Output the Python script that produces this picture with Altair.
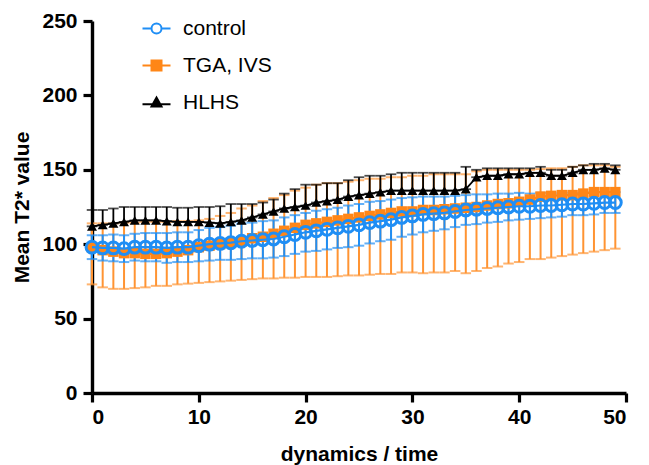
import altair as alt
import pandas as pd

# ---------------- data ----------------
t = list(range(50))
series_names = ["control", "TGA, IVS", "HLHS"]

control_mean = [98, 97.5, 97.5, 97, 98, 98, 98, 97.5, 98, 98,
                99, 100, 100.5, 101, 102, 102.5, 103, 103.5, 105, 106.5,
                108, 109, 110, 111, 112, 113, 114.5, 115.5, 116.5, 118,
                119, 120, 120.5, 121, 122, 123, 123.5, 124, 124.5, 125,
                125.5, 125.5, 126, 126, 126.5, 127, 127, 127.5, 128, 128]
control_sd = [8, 8.5, 9, 9, 9, 9.5, 9.5, 10, 10, 10,
              10.5, 11, 11, 11.5, 12, 12, 12.5, 12.5, 13, 13,
              13, 13.5, 13.5, 13.5, 14, 14, 14, 13.5, 13.5, 13,
              12.5, 12, 11.5, 11, 10.5, 10, 10, 9.5, 9.5, 9,
              9, 8.5, 8.5, 8, 8, 7.5, 7.5, 7.5, 7, 7]

tga_mean = [98, 96, 95, 94, 94, 93.5, 93.5, 94, 95, 96,
            98, 99, 100, 101, 102, 104, 105, 107, 109, 111,
            113, 114, 115, 116, 117, 118, 119, 120, 121, 122,
            122, 123, 123, 123.5, 124, 124.5, 125, 126, 127, 127.5,
            128.5, 130, 132, 132.5, 133, 133, 134, 135, 135, 135]
tga_low = [73, 71, 70, 70, 70.5, 71, 72, 72, 73, 73.5,
           74, 74.5, 75, 75.5, 76, 76.5, 77, 77, 77.5, 77.5,
           78, 78, 78, 78.5, 79, 79, 79.5, 80, 80, 81,
           81, 80.5, 81, 81, 82, 80.5, 82, 84, 85, 87,
           88, 90, 90, 91, 92, 93, 94, 95, 96, 97]
tga_high = [114, 114, 114, 114.5, 114.5, 115, 115, 115, 115.5, 115.5,
            116, 117, 119, 121, 124, 126, 129, 131, 133, 136,
            138, 140, 141, 141, 142, 143, 144, 144, 145, 145,
            146, 146, 147, 147, 147, 147, 149, 150, 150, 150,
            150, 150, 150.5, 151, 151, 152, 153, 153, 153, 152]

hlhs_mean = [112, 113, 114, 115, 116, 116, 116, 115.5, 115, 115,
             115, 114.5, 114, 115, 116, 118, 120, 122, 124, 125,
             126, 128, 129, 130, 132, 133, 134, 135, 136, 136,
             136, 136, 136, 136, 136, 137, 145, 146, 146, 147,
             147, 148, 148, 146, 146, 148, 150, 150, 151, 150]
hlhs_high = [123, 123, 124, 125, 125, 125, 125, 125, 124.5, 124.5,
             125, 125, 125.5, 127, 127, 127, 128, 130, 134, 137,
             140, 140, 141, 141, 143, 145, 146, 146, 147, 148,
             148, 148, 148, 148, 148, 152, 150, 151, 151, 151,
             151, 151, 152, 150, 150, 152, 153, 154, 154, 153]

x_ticks = [0, 10, 20, 30, 40, 50]
y_ticks = [0, 50, 100, 150, 200, 250]

BLUE = "#1f8ef5"
ORANGE = "#ff8617"
ORANGE_BAR = "#ff9433"
BLACK = "#000000"

ctrl = pd.DataFrame({"t": t, "mean": control_mean,
                     "lo": [m - s for m, s in zip(control_mean, control_sd)],
                     "hi": [m + s for m, s in zip(control_mean, control_sd)]})
tga = pd.DataFrame({"t": t, "mean": tga_mean, "lo": tga_low, "hi": tga_high})
hlhs = pd.DataFrame({"t": t, "mean": hlhs_mean, "lo": hlhs_mean, "hi": hlhs_high})
legend_df = pd.DataFrame({"series": series_names, "t": [0, 0, 0], "mean": [-100, -100, -100]})

X = alt.X("t:Q", scale=alt.Scale(domain=[0, 50], nice=False),
          axis=alt.Axis(values=x_ticks, title="dynamics / time", titlePadding=16))
Y = alt.Y("mean:Q", scale=alt.Scale(domain=[0, 250], nice=False),
          axis=alt.Axis(values=y_ticks, title="Mean T2* value", titlePadding=9, labelPadding=6))


def errbars(df, color, width=2.0):
    base = alt.Chart(df)
    rule = base.mark_rule(color=color, strokeWidth=width).encode(
        x=X, y=alt.Y("lo:Q", scale=alt.Scale(domain=[0, 250], nice=False)), y2="hi:Q")
    cap_hi = base.mark_tick(color=color, orient="horizontal", size=10.5, thickness=width).encode(
        x=X, y=alt.Y("hi:Q"))
    cap_lo = base.mark_tick(color=color, orient="horizontal", size=10.5, thickness=width).encode(
        x=X, y=alt.Y("lo:Q"))
    return rule + cap_hi + cap_lo


tga_err = errbars(tga, ORANGE_BAR, 2.0)
hlhs_err = errbars(hlhs, BLACK, 1.8)
ctrl_err = errbars(ctrl, BLUE, 2.0)

tga_line = alt.Chart(tga).mark_line(color=ORANGE, strokeWidth=2.2).encode(x=X, y=Y)
tga_pts = alt.Chart(tga).mark_point(shape="square", filled=True, color=ORANGE, size=110, opacity=1).encode(x=X, y=Y)
hlhs_line = alt.Chart(hlhs).mark_line(color=BLACK, strokeWidth=1.8).encode(x=X, y=Y)
hlhs_pts = alt.Chart(hlhs).mark_point(shape="triangle-up", filled=True, color=BLACK, size=100, opacity=1).encode(x=X, y=Y)
ctrl_line = alt.Chart(ctrl).mark_line(color=BLUE, strokeWidth=2.2).encode(x=X, y=Y)
ctrl_pts = alt.Chart(ctrl).mark_point(shape="circle", filled=False, color=BLUE, size=140,
                                      strokeWidth=3, opacity=1).encode(x=X, y=Y)

legend_paths = [
    "M-2.8,0L-1,0M1,0L2.8,0M-1,0A1,1,0,1,0,1,0A1,1,0,1,0,-1,0Z",
    "M-2.8,0L2.8,0M-1,-1L1,-1L1,1L-1,1Z",
    "M-2.8,0.35L2.8,0.35M0,-1L1,0.8L-1,0.8Z",
]
leg = dict(title=None, orient="none", legendX=54, legendY=-3,
           labelFont="Liberation Sans", labelFontSize=21, labelFontWeight="normal",
           labelColor="black", labelOffset=16, rowPadding=15, symbolSize=100,
           symbolStrokeWidth=2, padding=0)
legend_layer = alt.Chart(legend_df).mark_point(clip=True, opacity=1, strokeWidth=2, size=100).encode(
    x=X, y=Y,
    shape=alt.Shape("series:N", scale=alt.Scale(domain=series_names, range=legend_paths),
                    legend=alt.Legend(**leg)),
    fill=alt.Fill("series:N", scale=alt.Scale(domain=series_names, range=["white", ORANGE, BLACK]),
                  legend=alt.Legend(**leg)),
    stroke=alt.Stroke("series:N", scale=alt.Scale(domain=series_names, range=[BLUE, ORANGE, BLACK]),
                      legend=alt.Legend(**leg)),
)

chart = alt.layer(
    tga_err, hlhs_err, ctrl_err,
    tga_line, tga_pts, hlhs_line, hlhs_pts, ctrl_line, ctrl_pts,
    legend_layer,
).properties(
    width=534, height=372,
    autosize=alt.AutoSizeParams(type="none"),
    padding={"left": 92, "top": 21, "right": 23, "bottom": 72},
).configure_view(stroke=None).configure_axis(
    grid=False, domainColor="black", domainWidth=3.4, tickColor="black", tickWidth=3.2,
    tickSize=9, labelFont="Liberation Sans", labelFontWeight="bold", labelFontSize=21,
    labelColor="black", labelPadding=4, titleFont="Liberation Sans", titleFontWeight="bold",
    titleFontSize=21, titleColor="black",
)

chart.save("out.html", embed_options={"renderer": "svg", "actions": False})
